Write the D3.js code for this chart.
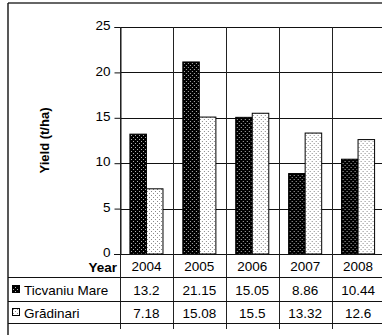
<!DOCTYPE html>
<html>
<head>
<meta charset="utf-8">
<script src="https://cdn.jsdelivr.net/npm/d3@7"></script>
<style>
  html, body { margin: 0; padding: 0; background: #fff; }
  svg { display: block; font-family: "Liberation Sans", Arial, sans-serif; }
</style>
</head>
<body>
<svg id="chart" width="382" height="335"></svg>
<script>
// Yield per year for the two locations
const years = ["2004", "2005", "2006", "2007", "2008"];
const seriesNames = ["Ticvaniu Mare", "Grădinari"];
const ticvaniuMare = [13.2, 21.15, 15.05, 8.86, 10.44];
const gradinari = [7.18, 15.08, 15.5, 13.32, 12.6];
const yTicks = [0, 5, 10, 15, 20, 25];
const yAxisTitle = "Yield (t/ha)";
const tableHeader = "Year";

const seriesValues = [ticvaniuMare, gradinari];

const svg = d3.select("#chart");
const W = 382, H = 335;

// layout
const plotLeft = 120, plotRight = 384.5, plotTop = 27, plotBottom = 254;
const rowLines = [277, 301, 323];
const tableBottom = 329;

// fill patterns
const defs = svg.append("defs");
const patDark = defs.append("pattern").attr("id", "patDark")
  .attr("patternUnits", "userSpaceOnUse").attr("width", 4).attr("height", 4);
patDark.append("rect").attr("width", 4).attr("height", 4).attr("fill", "#000");
patDark.append("rect").attr("x", 1).attr("y", 1).attr("width", 1).attr("height", 1).attr("fill", "#b0b0b0");
patDark.append("rect").attr("x", 3).attr("y", 3).attr("width", 1).attr("height", 1).attr("fill", "#b0b0b0");

const patLight = defs.append("pattern").attr("id", "patLight")
  .attr("patternUnits", "userSpaceOnUse").attr("width", 4).attr("height", 4);
patLight.append("rect").attr("width", 4).attr("height", 4).attr("fill", "#fff");
patLight.append("rect").attr("x", 1).attr("y", 1).attr("width", 1).attr("height", 1).attr("fill", "#8a8a8a");
patLight.append("rect").attr("x", 3).attr("y", 3).attr("width", 1).attr("height", 1).attr("fill", "#8a8a8a");

const fills = ["url(#patDark)", "url(#patLight)"];

// scales
const x = d3.scaleBand().domain(years).range([plotLeft, plotRight]).padding(0);
const x1 = d3.scaleBand().domain(seriesNames).range([0, x.bandwidth()])
  .paddingInner(0).paddingOuter(0.6);
const y = d3.scaleLinear().domain([0, 25]).range([plotBottom, plotTop]);

// outer frame
svg.append("line").attr("x1", 8).attr("x2", W).attr("y1", 3).attr("y2", 3)
  .attr("stroke", "#333").attr("stroke-width", 1.6);
svg.append("line").attr("x1", 8).attr("x2", 8).attr("y1", 3).attr("y2", H)
  .attr("stroke", "#111").attr("stroke-width", 1.4);

// horizontal gridlines
svg.append("g").selectAll("line").data(yTicks.filter(t => t > 0)).join("line")
  .attr("x1", plotLeft).attr("x2", W)
  .attr("y1", d => Math.round(y(d)) + 0.5).attr("y2", d => Math.round(y(d)) + 0.5)
  .attr("stroke", "#111").attr("stroke-width", 1);

// bars
const groups = svg.append("g").selectAll("g").data(years).join("g")
  .attr("transform", d => `translate(${x(d)},0)`);
groups.selectAll("rect")
  .data((yr, i) => seriesNames.map((s, k) => ({ s, k, v: seriesValues[k][i] })))
  .join("rect")
  .attr("x", d => x1(d.s))
  .attr("y", d => y(d.v))
  .attr("width", x1.bandwidth())
  .attr("height", d => y(0) - y(d.v))
  .attr("fill", d => fills[d.k])
  .attr("stroke", "#000").attr("stroke-width", 1);

// y axis
const yAxis = d3.axisLeft(y).tickValues(yTicks).tickSize(6).tickPadding(4).tickFormat(d3.format("d"));
const gy = svg.append("g").attr("transform", `translate(${plotLeft + 0.5},0)`).call(yAxis);
gy.select(".domain").attr("stroke", "#111");
gy.selectAll(".tick line").attr("stroke", "#111");
gy.selectAll(".tick text").attr("font-size", 13.5).attr("fill", "#000").attr("dy", "0.2em")
  .attr("font-family", "Liberation Sans, Arial, sans-serif");

// axis title
svg.append("text")
  .attr("transform", `translate(49,${(plotTop + plotBottom) / 2}) rotate(-90)`)
  .attr("text-anchor", "middle").attr("font-size", 13).attr("font-weight", "bold")
  .text(yAxisTitle);

// x axis baseline (top of data table)
svg.append("line").attr("x1", plotLeft - 6).attr("x2", W)
  .attr("y1", plotBottom + 0.5).attr("y2", plotBottom + 0.5)
  .attr("stroke", "#111");

// category separators through plot and table
const seps = years.map(d => x(d)).concat([x.range()[1]]);
svg.append("g").selectAll("line").data(seps).join("line")
  .attr("x1", d => Math.round(d) + 0.5).attr("x2", d => Math.round(d) + 0.5)
  .attr("y1", plotTop).attr("y2", tableBottom)
  .attr("stroke", "#222").attr("stroke-width", 1);

// table row lines
svg.append("g").selectAll("line").data(rowLines).join("line")
  .attr("x1", 8).attr("x2", W)
  .attr("y1", d => d + 0.5).attr("y2", d => d + 0.5)
  .attr("stroke", "#111");

// header row
svg.append("text").attr("x", 117).attr("y", 272).attr("text-anchor", "end")
  .attr("font-size", 13.5).attr("font-weight", "bold").text(tableHeader);
svg.append("g").selectAll("text").data(years).join("text")
  .attr("x", d => x(d) + x.bandwidth() / 2).attr("y", 271)
  .attr("text-anchor", "middle").attr("font-size", 13.5).text(d => d);

// data rows
const rowBase = [295, 318];
seriesNames.forEach((name, k) => {
  const g = svg.append("g");
  g.append("rect").attr("x", 12.5).attr("y", rowBase[k] - 9.5).attr("width", 7).attr("height", 7)
    .attr("fill", fills[k]).attr("stroke", "#000").attr("stroke-width", 1);
  g.append("text").attr("x", 24).attr("y", rowBase[k]).attr("font-size", 13.5).text(name);
  g.selectAll("text.v").data(seriesValues[k]).join("text").attr("class", "v")
    .attr("x", (d, i) => x(years[i]) + x.bandwidth() / 2).attr("y", rowBase[k])
    .attr("text-anchor", "middle").attr("font-size", 13.5).text(d => d);
});
</script>
</body>
</html>
